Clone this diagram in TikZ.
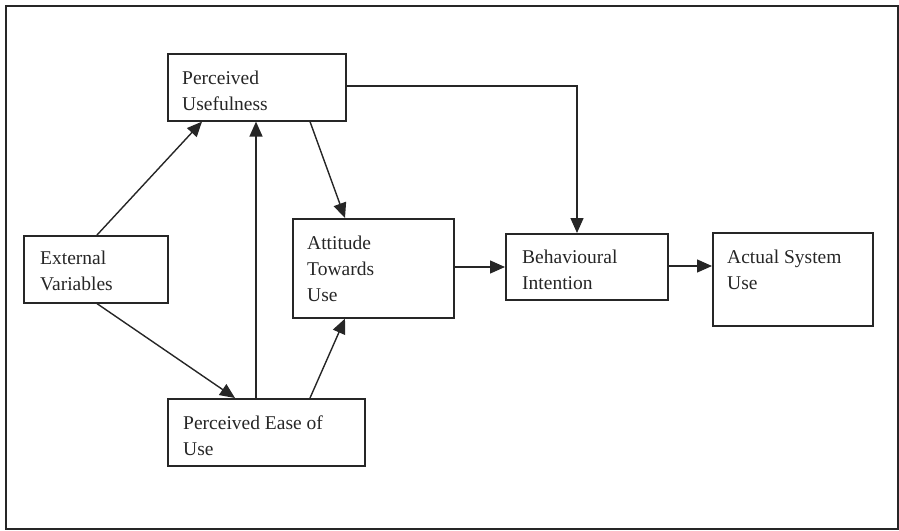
\documentclass[tikz,border=0pt]{standalone}
\usepackage{fontspec}
\setmainfont{Liberation Serif}
\usetikzlibrary{arrows.meta,calc}
\begin{document}
\begin{tikzpicture}[x=1pt,y=-1pt,
  boxframe/.style={draw=black!85,line width=1.6pt,rectangle,inner sep=0pt,anchor=north west},
  lbl/.style={anchor=base west,align=left,inner sep=0pt,font=\fontsize{19.5}{26}\selectfont,text=black!85},
  arr/.style={draw=black!85,line width=1.4pt,-{Triangle[length=15pt,width=13pt]}}]
\useasboundingbox (0,0) rectangle (899,530);
\node[boxframe,minimum width=892pt,minimum height=523pt] (frame) at (5,5) {};
% boxes
\node[boxframe,minimum width=178pt,minimum height=67pt] (pu) at (167,53) {};
\node[boxframe,minimum width=144pt,minimum height=67pt] (ev) at (23,235) {};
\node[boxframe,minimum width=161pt,minimum height=99pt] (atu) at (292,218) {};
\node[boxframe,minimum width=197pt,minimum height=67pt] (pe) at (167,398) {};
\node[boxframe,minimum width=162pt,minimum height=66pt] (bi) at (505,233) {};
\node[boxframe,minimum width=160pt,minimum height=93pt] (asu) at (712,232) {};
% texts (anchored at the baseline of the last line)
\node[lbl] (tpu) at (182,110) {Perceived\\Usefulness};
\node[lbl] (tev) at (40,290) {External\\Variables};
\node[lbl] (tatu) at (307,301) {Attitude\\Towards\\Use};
\node[lbl] (tpe) at (183,455) {Perceived Ease of\\Use};
\node[lbl] (tbi) at (522,289) {Behavioural\\Intention};
\node[lbl] (tasu) at (727,289) {Actual System\\Use};
% connectors
\draw[arr] ($(ev.north west)+(74,0)$) -- ($(pu.south west)+(35,0)$);
\draw[arr] ($(ev.south west)+(74,0)$) -- ($(pe.north west)+(68,0)$);
\draw[arr] ($(pe.north west)+(89,0)$) -- ($(pu.south west)+(89,0)$);
\draw[arr] ($(pu.south west)+(143,0)$) -- ($(atu.north west)+(53,0)$);
\draw[arr] ($(pe.north west)+(143,0)$) -- ($(atu.south west)+(53,0)$);
\draw[arr] ($(pu.north east)+(0,33)$) -| ($(bi.north west)+(72,0)$);
\draw[arr] ($(atu.north east)+(0,49)$) -- ($(bi.north west)+(0,34)$);
\draw[arr] ($(bi.north east)+(0,33)$) -- ($(asu.north west)+(0,34)$);
\end{tikzpicture}
\end{document}
